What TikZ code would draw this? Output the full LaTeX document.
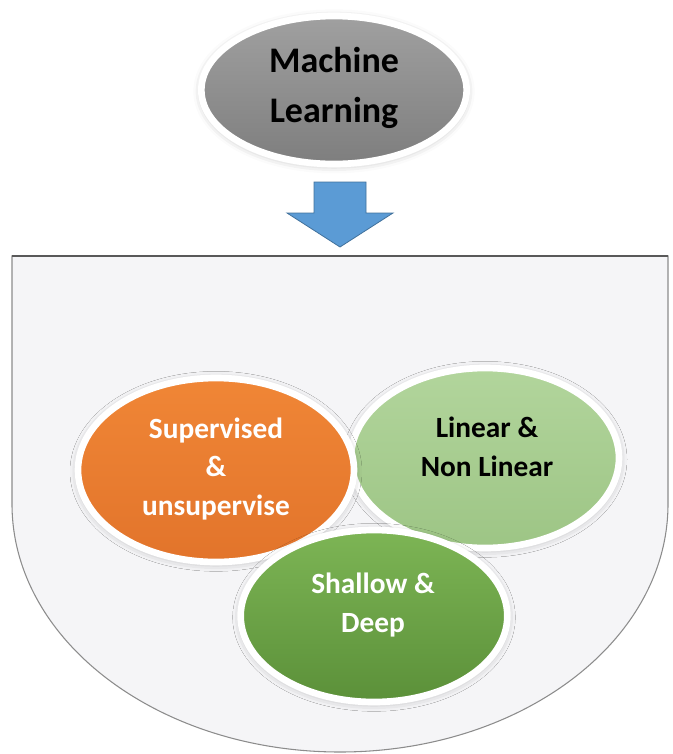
\documentclass[tikz,border=0pt]{standalone}
\usepackage{fontspec}
\setmainfont{Carlito}
\usetikzlibrary{shapes.geometric,shadows.blur}
\definecolor{mlgrayT}{HTML}{A0A0A0}
\definecolor{mlgrayB}{HTML}{7E7E7E}
\definecolor{suporT}{HTML}{F08636}
\definecolor{suporB}{HTML}{E2742B}
\definecolor{linT}{HTML}{B2D59C}
\definecolor{linB}{HTML}{9DC585}
\definecolor{deepT}{HTML}{7DB555}
\definecolor{deepB}{HTML}{5B9039}
\definecolor{arrblue}{HTML}{5B9BD5}
\definecolor{arredge}{HTML}{41719C}
\definecolor{panelfill}{HTML}{F5F5F7}
\tikzset{
  bubble/.style={ellipse, draw=white, line width=5pt, inner sep=0pt,
    blur shadow={shadow xshift=0pt, shadow yshift=-1pt,
      shadow blur radius=6pt, shadow opacity=28}},
  label text/.style={align=center, inner sep=0pt, font=\bfseries\fontsize{22}{29}\selectfont},
  blockarrow/.style={fill=arrblue, draw=arredge, line width=0.6pt, line join=miter},
  panel/.style={fill=panelfill, draw=black!45, line width=0.8pt}
}
\begin{document}
\begin{tikzpicture}[x=0.75pt, y=-0.75pt]
  \useasboundingbox (0,0) rectangle (673,754);

  % container: box on top, half ellipse below
  \draw[panel] (12,256) -- (668,256) -- (668,504)
    arc[start angle=0, end angle=180, x radius=328, y radius=248] -- cycle;
  \draw[black!65, line width=1.2pt] (12,256) -- (668,256);

  % top bubble
  \node[bubble, top color=mlgrayT, bottom color=mlgrayB,
    minimum width=199pt, minimum height=111pt] (ml) at (334,90) {};
  \node[label text, font=\bfseries\fontsize{27}{37}\selectfont] (mltext) at (334,88)
    {Machine\\Learning};

  % down arrow
  \coordinate (arrtip) at (340,247);
  \draw[blockarrow] (arrtip) -- ++(-53,-34) -- ++(27,0) -- ++(0,-31)
    -- ++(52,0) -- ++(0,31) -- ++(27,0) -- cycle;

  % three categories
  \node[bubble, top color=linT, bottom color=linB,
    minimum width=201pt, minimum height=135pt] (lin) at (485,458) {};
  \node[bubble, top color=suporT, bottom color=suporB,
    minimum width=207pt, minimum height=138pt] (sup) at (216,470) {};
  \node[bubble, top color=deepT, bottom color=deepB,
    minimum width=200pt, minimum height=129pt] (deep) at (374,616) {};

  \node[label text, text=white] (suptext) at (216,469) {Supervised\\\&\\unsupervise};
  \node[label text, text=black] (lintext) at (487,447) {Linear \&\\Non Linear};
  \node[label text, text=white] (deeptext) at (373,605) {Shallow \&\\Deep};
\end{tikzpicture}
\end{document}
